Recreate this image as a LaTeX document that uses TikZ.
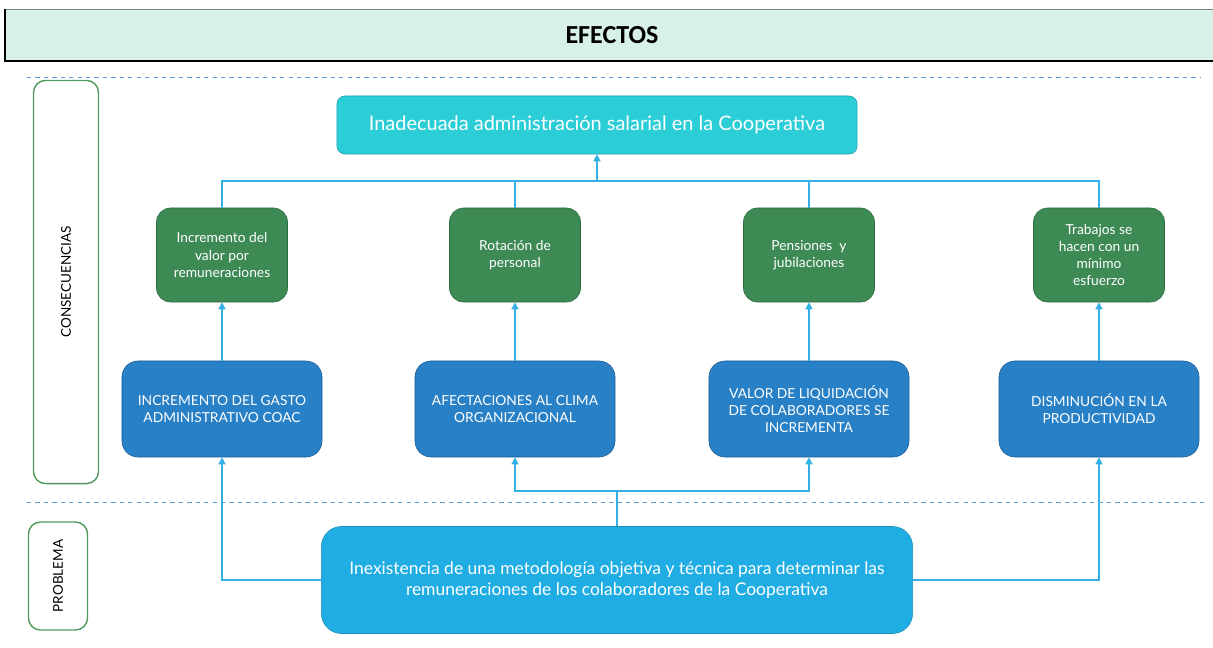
\documentclass[tikz,border=0pt]{standalone}
\usepackage{fontspec}
\setmainfont{Lato}
\newfontfamily\titulofont{Carlito}
\usetikzlibrary{arrows.meta,positioning}

\definecolor{menta}{HTML}{D8F0EA}
\definecolor{guia}{HTML}{5B9BD5}
\definecolor{marco}{HTML}{4F9A5C}
\definecolor{turquesa}{HTML}{2BCDD6}
\definecolor{turquesab}{HTML}{1D9EA6}
\definecolor{verde}{HTML}{3E8A55}
\definecolor{verdeb}{HTML}{2D6A40}
\definecolor{azul}{HTML}{2880C6}
\definecolor{azulb}{HTML}{1F5E95}
\definecolor{celeste}{HTML}{1FADE3}
\definecolor{celesteb}{HTML}{1B8DB8}
\definecolor{enlace}{HTML}{35B0E5}

\begin{document}
\begin{tikzpicture}[x=0.025cm,y=-0.025cm,
    lado/.style={draw=marco,line width=1pt,fill=white,rounded corners=0.3cm,
      rotate=90,font=\fontsize{9.6}{11}\selectfont},
    efecto/.style={draw=turquesab,fill=turquesa,text=white,rounded corners=0.2cm,
      minimum width=13cm,minimum height=1.45cm,font=\fontsize{14.2}{16}\selectfont},
    consec/.style={draw=verdeb,fill=verde,text=white,rounded corners=0.35cm,align=center,
      minimum width=3.275cm,minimum height=2.35cm,font=\fontsize{9.8}{12.2}\selectfont},
    causa/.style={draw=azulb,fill=azul,text=white,rounded corners=0.4cm,align=center,
      minimum width=5cm,minimum height=2.4cm,font=\fontsize{9.8}{12.2}\selectfont},
    raiz/.style={draw=celesteb,fill=celeste,text=white,rounded corners=0.5cm,align=center,
      minimum width=14.775cm,minimum height=2.675cm,font=\fontsize{12.4}{15.5}\selectfont},
    guia/.style={draw=guia,dashed,line width=0.6pt},
    link/.style={draw=enlace,line width=1pt},
    flecha/.style={link,-{Triangle[width=5pt,length=5pt]}}]
    \useasboundingbox (0,0) rectangle (1213,647);

    \node[draw=gray,line width=0.6pt,fill=menta,minimum width=30.3cm,minimum height=1.3cm,
      font=\titulofont\bfseries\fontsize{18.5}{20}\selectfont]
                             (titulo)    at (612,35)   {EFECTOS};
    \draw[line width=1.5pt] (titulo.north west) -- (titulo.south west) -- (titulo.south east);
    \draw[guia] (27,77) -- (1200,77);
    \draw[guia] (27,502) -- (1205,502);

    \node[lado,minimum width=10.075cm,minimum height=1.625cm] (consecuencias) at (66,282) {CONSECUENCIAS};
    \node[lado,minimum width=2.7cm,minimum height=1.475cm]    (problem)       at (58,576) {PROBLEMA};

    \node[efecto]            (central)   at (597,125)  {Inadecuada administración salarial en la Cooperativa};

    \node[consec]            (verde1)    at (222,255)  {Incremento del\\valor por\\remuneraciones};
    \node[consec]            (verde2)    at (515,255)  {Rotación de\\personal};
    \node[consec]            (verde3)    at (809,255)  {Pensiones\ \ y\\jubilaciones};
    \node[consec]            (verde4)    at (1099,255) {Trabajos se\\hacen con un\\mínimo\\esfuerzo};

    \node[causa]             (azul1)     at (222,409)  {INCREMENTO DEL GASTO\\ADMINISTRATIVO COAC};
    \node[causa]             (azul2)     at (515,409)  {AFECTACIONES AL CLIMA\\ORGANIZACIONAL};
    \node[causa]             (azul3)     at (809,409)  {VALOR DE LIQUIDACIÓN\\DE COLABORADORES SE\\INCREMENTA};
    \node[causa]             (azul4)     at (1099,409) {DISMINUCIÓN EN LA\\PRODUCTIVIDAD};

    \node[raiz]              (problema)  at (617,580)  {Inexistencia de una metodología objetiva y técnica para determinar las\\remuneraciones de los colaboradores de la Cooperativa};

    \coordinate (bus)  at (597,181);
    \coordinate (rama) at (617,491);

    \draw[link]   (verde1.north) |- (bus) -| (verde4.north);
    \draw[link]   (verde2.north) -- (verde2.north |- bus);
    \draw[link]   (verde3.north) -- (verde3.north |- bus);
    \draw[flecha] (bus) -- (central.south);

    \draw[flecha] (azul1.north) -- (verde1.south);
    \draw[flecha] (azul2.north) -- (verde2.south);
    \draw[flecha] (azul3.north) -- (verde3.south);
    \draw[flecha] (azul4.north) -- (verde4.south);

    \draw[flecha] (problema.west) -| (azul1.south);
    \draw[flecha] (problema.east) -| (azul4.south);
    \draw[link]   (problema.north) -- (rama);
    \draw[flecha] (rama) -| (azul2.south);
    \draw[flecha] (rama) -| (azul3.south);
\end{tikzpicture}
\end{document}
